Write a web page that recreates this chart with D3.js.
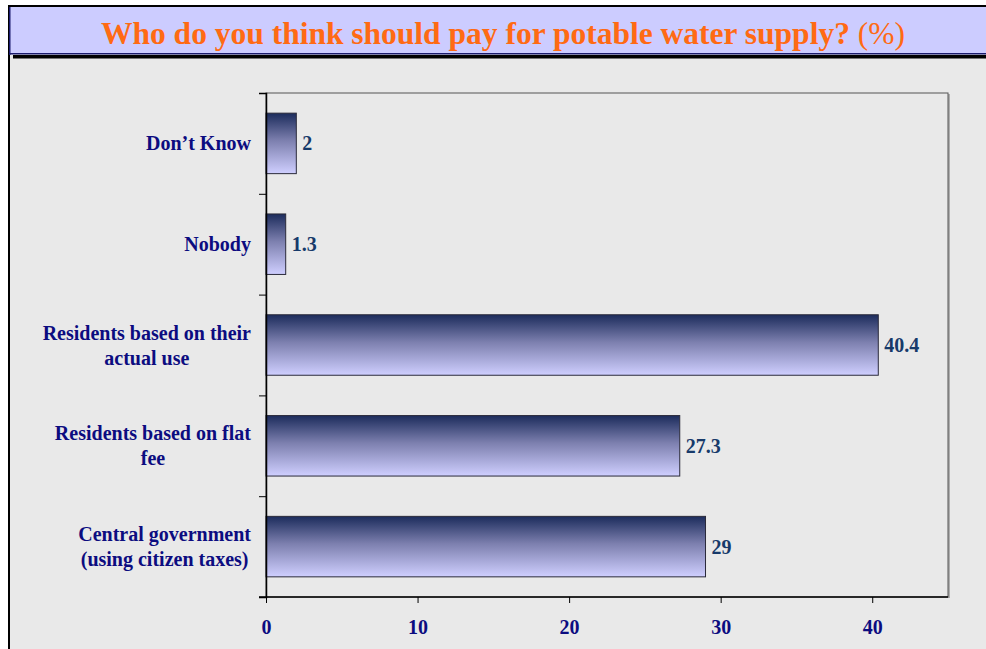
<!DOCTYPE html>
<html>
<head>
<meta charset="utf-8">
<script src="https://cdn.jsdelivr.net/npm/d3@7"></script>
<style>
  html, body { margin: 0; padding: 0; background: #ffffff; }
  svg { display: block; }
</style>
</head>
<body>
<svg id="chart" width="986" height="649"></svg>
<script>
// Survey answers, top to bottom
const categories = [
  "Don\u2019t Know",
  "Nobody",
  "Residents based on their|actual use",
  "Residents based on flat|fee",
  "Central government|(using citizen taxes)"
];
const values = [2, 1.3, 40.4, 27.3, 29];
const xTicks = [0, 10, 20, 30, 40];
const titleMain = "Who do you think should pay for potable water supply?";
const titleUnit = " (%)";

const svg = d3.select("#chart");
const W = 986, H = 649;
const serif = "'Liberation Serif', 'Times New Roman', Times, serif";

// Slide frame: grey panel with black left rule
svg.append("rect").attr("x", 8).attr("y", 5).attr("width", W - 8).attr("height", H - 5).attr("fill", "#e9e9e9");
svg.append("rect").attr("x", 8).attr("y", 5).attr("width", 2).attr("height", H - 5).attr("fill", "#000");

// Title band
svg.append("rect").attr("x", 8).attr("y", 5).attr("width", W - 8).attr("height", 2).attr("fill", "#000");
svg.append("rect").attr("x", 10).attr("y", 7).attr("width", W - 10).attr("height", 47).attr("fill", "#ccccff");
svg.append("rect").attr("x", 10).attr("y", 53).attr("width", W - 10).attr("height", 1.5).attr("fill", "#1a1a6e");
svg.append("rect").attr("x", 13).attr("y", 55).attr("width", W - 13).attr("height", 3.5).attr("fill", "#000");
svg.append("rect").attr("x", 9).attr("y", 7).attr("width", 1.5).attr("height", 48).attr("fill", "#1a1a6e");

const title = svg.append("text")
  .attr("x", 503).attr("y", 44)
  .attr("text-anchor", "middle")
  .attr("font-family", serif)
  .attr("font-size", 31.5)
  .attr("fill", "#ff6a13");
title.append("tspan").attr("font-weight", "bold").text(titleMain);
title.append("tspan").attr("font-weight", "normal").text(titleUnit);

// Plot area
const plot = { left: 266, top: 93, right: 948, bottom: 597 };

const x = d3.scaleLinear().domain([0, 45]).range([plot.left, plot.right]);
const y = d3.scaleBand().domain(categories).range([plot.top, plot.bottom]).paddingInner(0.4).paddingOuter(0.2);

// Bar fill: dark navy at the top fading to lavender
const defs = svg.append("defs");
const grad = defs.append("linearGradient").attr("id", "barFill")
  .attr("x1", 0).attr("y1", 0).attr("x2", 0).attr("y2", 1);
grad.append("stop").attr("offset", "0%").attr("stop-color", "#1c2c5c");
grad.append("stop").attr("offset", "45%").attr("stop-color", "#7c7fae");
grad.append("stop").attr("offset", "100%").attr("stop-color", "#cfcfff");

// Plot border (top/right), with a soft shadow on the right
svg.append("line").attr("x1", plot.right + 1).attr("x2", plot.right + 1)
  .attr("y1", plot.top + 1).attr("y2", plot.bottom + 1)
  .attr("stroke", "#999").attr("stroke-width", 1.5);
svg.append("rect")
  .attr("x", plot.left).attr("y", plot.top)
  .attr("width", plot.right - plot.left).attr("height", plot.bottom - plot.top)
  .attr("fill", "none").attr("stroke", "#555").attr("stroke-width", 1);

// Bars
svg.append("g").selectAll("rect")
  .data(categories)
  .join("rect")
  .attr("x", x(0))
  .attr("y", d => y(d))
  .attr("width", (d, i) => x(values[i]) - x(0))
  .attr("height", y.bandwidth())
  .attr("fill", "url(#barFill)")
  .attr("stroke", "#2a2a3a")
  .attr("stroke-width", 1);

// Value labels
svg.append("g").selectAll("text")
  .data(categories)
  .join("text")
  .attr("x", (d, i) => x(values[i]) + 6)
  .attr("y", d => y(d) + y.bandwidth() / 2 + 7)
  .attr("font-family", serif)
  .attr("font-weight", "bold")
  .attr("font-size", 20)
  .attr("fill", "#173a6a")
  .text((d, i) => String(values[i]));

// Category axis
const yAxis = d3.axisLeft(d3.scaleLinear().domain([0, categories.length]).range([plot.top, plot.bottom]))
  .tickValues(d3.range(categories.length + 1))
  .tickSize(7)
  .tickFormat("");
const gy = svg.append("g").attr("transform", `translate(${plot.left},0)`).call(yAxis);
gy.select(".domain").attr("stroke", "#000").attr("stroke-width", 1.5);
gy.selectAll(".tick line").attr("stroke", "#000").attr("stroke-width", 1);

// Category labels: lines centred on each other, block right-aligned to the axis
const labelRight = 251;
categories.forEach(c => {
  const lines = c.split("|");
  const g = svg.append("text")
    .attr("font-family", serif)
    .attr("font-weight", "bold")
    .attr("font-size", 20)
    .attr("fill", "#0c0c80")
    .attr("text-anchor", "middle");
  const spans = lines.map(l => g.append("tspan").text(l));
  const widths = spans.map(s => s.node().getComputedTextLength());
  const maxW = d3.max(widths);
  const cx = labelRight - maxW / 2;
  const lh = 25;
  const cy = y(c) + y.bandwidth() / 2;
  const firstBase = cy - (lines.length - 1) * lh / 2 + 7;
  spans.forEach((s, i) => s.attr("x", cx).attr("y", firstBase + i * lh));
});

// Value axis
const xAxis = d3.axisBottom(x).tickValues(xTicks).tickSize(6).tickPadding(17).tickFormat(d3.format("d"));
const gx = svg.append("g").attr("transform", `translate(0,${plot.bottom})`).call(xAxis);
gx.select(".domain").remove();
svg.append("line").attr("x1", plot.left - 7).attr("x2", plot.right)
  .attr("y1", plot.bottom).attr("y2", plot.bottom)
  .attr("stroke", "#000").attr("stroke-width", 1.5);
gx.selectAll(".tick line").attr("stroke", "#000");
gx.selectAll(".tick text")
  .attr("font-family", serif)
  .attr("font-weight", "bold")
  .attr("font-size", 20)
  .attr("fill", "#0c0c80");
</script>
</body>
</html>
